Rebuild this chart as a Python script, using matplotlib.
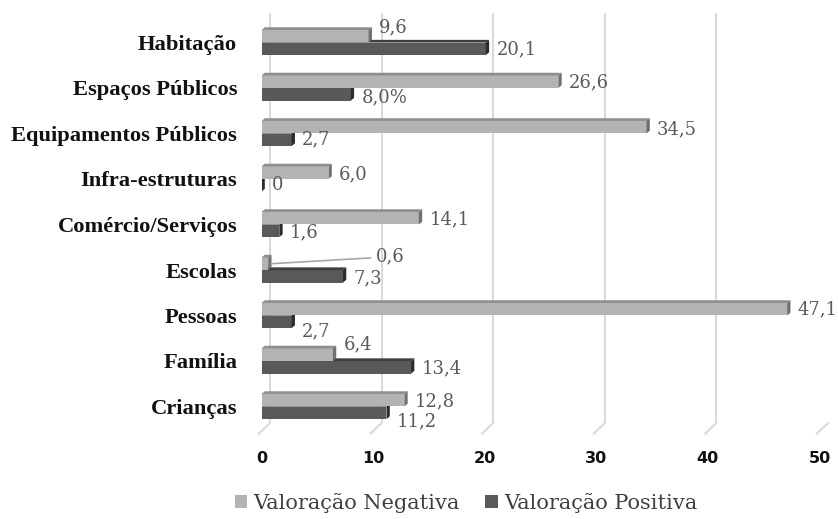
import numpy as np
import matplotlib.pyplot as plt
from matplotlib.patches import Polygon, Patch

categories = ['Habitação', 'Espaços Públicos', 'Equipamentos Públicos', 'Infra-estruturas',
              'Comércio/Serviços', 'Escolas', 'Pessoas', 'Família', 'Crianças']
negativa = [9.6, 26.6, 34.5, 6.0, 14.1, 0.6, 47.1, 6.4, 12.8]
positiva = [20.1, 8.0, 2.7, 0.0, 1.6, 7.3, 2.7, 13.4, 11.2]
neg_labels = ['9,6', '26,6', '34,5', '6,0', '14,1', '0,6', '47,1', '6,4', '12,8']
pos_labels = ['20,1', '8,0%', '2,7', '0', '1,6', '7,3', '2,7', '13,4', '11,2']
xticks = [0, 10, 20, 30, 40, 50]

# label nudges in pixels (down is positive)
neg_dy = [-9, 1, 2, 2, 1, -7, 0, -10, 1]
pos_dy = [1, 3, 0, 0, 2, 2, 10, 1, 9]

NEG, NEG_TOP, NEG_CAP = '#b3b3b3', '#8e8e8e', '#6f6f6f'
POS, POS_TOP, POS_CAP = '#595959', '#3e3e3e', '#2c2c2c'

W, H = 838, 519
fig = plt.figure(figsize=(W / 100, H / 100), dpi=100)
ax_left, ax_top, ax_bot, ax_w = 261.5, 13, 423, 558
ax = fig.add_axes([ax_left / W, (H - ax_bot) / H, ax_w / W, (ax_bot - ax_top) / H])

PXU = ax_w / 50.0          # px per x unit
PYU = 45.5                 # px per category step
n = len(categories)
y = np.arange(n)[::-1]     # Habitação at top
ax.set_xlim(0, 50)
ax.set_ylim(-(ax_bot - 406.5) / PYU, (n - 1) + (42.5 - ax_top) / PYU)

bh = 12.5 / PYU
off = 6.3 / PYU
dx = 3.3 / PXU
dy = 2.7 / PYU

# back-plane gridlines with a slanted foot
for v in xticks:
    xb = v + 8.5 / PXU
    yl = ax.get_ylim()
    ax.plot([xb, xb], [yl[0], yl[1]], color='#d9d9d9', lw=1.5, zorder=0)
    ax.plot([xb, v - 2.5 / PXU], [yl[0], yl[0] - 10.5 / PYU], color='#d9d9d9',
            lw=1.5, zorder=0, clip_on=False)


def bars3d(vals, yc, face, top, cap, z):
    ax.barh(yc, vals, height=bh, color=face, edgecolor='none', zorder=z)
    for v, c in zip(vals, yc):
        t, b = c + bh / 2, c - bh / 2
        ax.add_patch(Polygon([(0, t), (v, t), (v + dx, t + dy), (dx, t + dy)],
                             closed=True, color=top, lw=0, zorder=z))
        ax.add_patch(Polygon([(v, b), (v, t), (v + dx, t + dy), (v + dx, b + dy)],
                             closed=True, color=cap, lw=0, zorder=z))


bars3d(positiva, y - off, POS, POS_TOP, POS_CAP, 2)
bars3d(negativa, y + off, NEG, NEG_TOP, NEG_CAP, 3)

lab_font = dict(family='DejaVu Serif', fontsize=13, color='#5a5a5a')
for i in range(n):
    for vals, labs, dys, sgn in ((negativa, neg_labels, neg_dy, 1), (positiva, pos_labels, pos_dy, -1)):
        v = vals[i]
        yc = y[i] + sgn * off - dys[i] / PYU
        if i == 5 and sgn == 1:
            # small bar: label pulled out with a leader line
            ax.annotate(labs[i], xy=(v + dx, y[i] + off), xytext=(v + 108 / PXU, yc),
                        ha='left', va='center', zorder=5,
                        arrowprops=dict(arrowstyle='-', color='#a6a6a6', lw=1.2,
                                        shrinkA=2, shrinkB=0), **lab_font)
        else:
            ax.text(v + 10.5 / PXU, yc, labs[i], ha='left', va='center', zorder=5, **lab_font)

ax.set_yticks(y)
ax.set_yticklabels(categories, fontfamily='Liberation Serif', fontweight='bold',
                   fontsize=16.2, color='#111111')
ax.set_xticks(xticks)
ax.set_xticklabels([str(t) for t in xticks], fontfamily='DejaVu Sans', fontweight='bold',
                   fontsize=11.5, color='#111111')
ax.tick_params(axis='y', length=0, pad=17.5)
ax.tick_params(axis='x', length=0, pad=20)
for s in ax.spines.values():
    s.set_visible(False)

handles = [Patch(facecolor=NEG, label='Valoração Negativa'),
           Patch(facecolor=POS, label='Valoração Positiva')]
fig.legend(handles=handles, loc='center', bbox_to_anchor=(466 / W, 1 - 503 / H), ncol=2,
           frameon=False, handlelength=0.6, handleheight=0.6, handletextpad=0.3,
           columnspacing=1.2, prop={'family': 'DejaVu Serif', 'size': 15},
           labelcolor='#404040')

fig.savefig('out.png', dpi=100)
